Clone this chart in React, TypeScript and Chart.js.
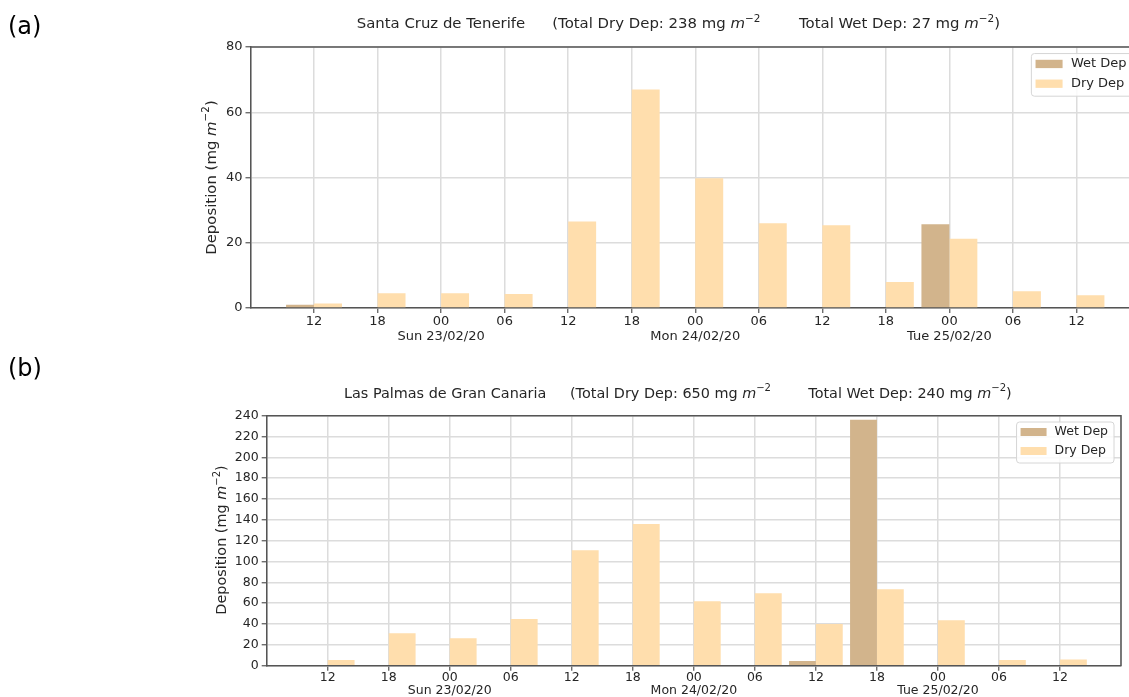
import React, { useEffect, useRef } from 'react';
import { Chart, registerables } from 'chart.js';

Chart.register(...registerables);

const FONT = "'DejaVu Sans', 'Liberation Sans', sans-serif";
const TEXT = '#262626';
const SPINE = '#555555';
const GRID = '#dcdcdc';
const WET_COLOR = '#D2B48C';
const DRY_COLOR = '#FFDEAD';

// 6-hourly time steps (first and last are the empty axis margins)
const hourLabels = ['06', '12', '18', '00', '06', '12', '18', '00', '06', '12', '18', '00', '06', '12', '18'];
const dayLabels = ['Sun 23/02/20', 'Mon 24/02/20', 'Tue 25/02/20'];

// (a) Santa Cruz de Tenerife, mg m-2
const tenerifeWet = [null, 1.0, null, null, null, null, null, null, null, null, null, 25.7, null, null, null];
const tenerifeDry = [null, 1.4, 4.5, 4.5, 4.3, 26.5, 67, 39.8, 26, 25.4, 8, 21.2, 5.1, 3.9, null];

// (b) Las Palmas de Gran Canaria, mg m-2
const canariaWet = [null, null, null, null, null, null, null, null, null, 4.5, 236, null, null, null, null];
const canariaDry = [null, 5.5, 31.1, 26.3, 44.8, 110.8, 136, 61.8, 69.5, 40, 73.3, 43.6, 5.5, 6, null];

type Seg = { t: string; it?: boolean; sup?: boolean };

const tenerifeTitle: Seg[][] = [
  [{ t: 'Santa Cruz de Tenerife' }],
  [{ t: '(Total Dry Dep: 238 mg ' }, { t: 'm', it: true }, { t: '\u22122', sup: true }],
  [{ t: 'Total Wet Dep: 27 mg ' }, { t: 'm', it: true }, { t: '\u22122', sup: true }, { t: ')' }],
];
const canariaTitle: Seg[][] = [
  [{ t: 'Las Palmas de Gran Canaria' }],
  [{ t: '(Total Dry Dep: 650 mg ' }, { t: 'm', it: true }, { t: '\u22122', sup: true }],
  [{ t: 'Total Wet Dep: 240 mg ' }, { t: 'm', it: true }, { t: '\u22122', sup: true }, { t: ')' }],
];
const yLabel: Seg[] = [{ t: 'Deposition (mg ' }, { t: 'm', it: true }, { t: '\u22122', sup: true }, { t: ')' }];

const tickTexts: (string | string[])[] = (() => {
  let k = 0;
  return hourLabels.map((h, i) => {
    if (i === 0 || i === hourLabels.length - 1) return '';
    if (h === '00') return [h, dayLabels[k++]];
    return h;
  });
})();

function segFont(s: Seg, size: number) {
  return `${s.it ? 'italic ' : ''}${s.sup ? size * 0.7 : size}px ${FONT}`;
}

function drawRich(ctx: CanvasRenderingContext2D, segs: Seg[], x: number, y: number, size: number, center: boolean) {
  let w = 0;
  for (const s of segs) {
    ctx.font = segFont(s, size);
    w += ctx.measureText(s.t).width;
  }
  let cx = center ? x - w / 2 : x;
  ctx.textAlign = 'left';
  ctx.textBaseline = 'alphabetic';
  for (const s of segs) {
    ctx.font = segFont(s, size);
    ctx.fillText(s.t, cx, s.sup ? y - size * 0.42 : y);
    cx += ctx.measureText(s.t).width;
  }
}

type PanelCfg = {
  top: number;
  w: number;
  h: number;
  padTop: number;
  padRight: number;
  yW: number;
  xH: number;
  ymax: number;
  wet: (number | null)[];
  dry: (number | null)[];
  s: number;
  tick: number;
  lineH: number;
  xPad: number;
  titleSize: number;
  title: Seg[][];
  titleX: number[];
  titleY: number;
  ylabX: number;
  ylabY: number;
  panel: string;
  panelY: number;
};

function makeDeco(cfg: PanelCfg) {
  return {
    id: 'deco',
    afterDraw(chart: any) {
      const ctx: CanvasRenderingContext2D = chart.ctx;
      const ca = chart.chartArea;
      ctx.save();
      // top / right spines
      ctx.strokeStyle = SPINE;
      ctx.lineWidth = 1.5;
      ctx.beginPath();
      ctx.moveTo(ca.left, ca.top);
      ctx.lineTo(ca.right, ca.top);
      ctx.lineTo(ca.right, ca.bottom);
      ctx.stroke();
      // title
      ctx.fillStyle = TEXT;
      cfg.title.forEach((p, i) => drawRich(ctx, p, cfg.titleX[i], cfg.titleY, cfg.titleSize, false));
      // panel label
      ctx.fillStyle = '#000';
      ctx.font = `24px ${FONT}`;
      ctx.textAlign = 'left';
      ctx.textBaseline = 'alphabetic';
      ctx.fillText(cfg.panel, 8, cfg.panelY);
      // y label
      ctx.fillStyle = TEXT;
      ctx.save();
      ctx.translate(cfg.ylabX, cfg.ylabY);
      ctx.rotate(-Math.PI / 2);
      drawRich(ctx, yLabel, 0, 0, cfg.titleSize, true);
      ctx.restore();
      // legend
      const s = cfg.s;
      const fs = 12.5 * s;
      ctx.font = `${fs}px ${FONT}`;
      const items = chart.data.datasets.map((d: any) => ({ label: d.label, color: d.backgroundColor }));
      let tw = 0;
      for (const it of items) tw = Math.max(tw, ctx.measureText(it.label).width);
      const bw = (4 + 26 + 8) * s + tw + 6 * s;
      const bh = 41 * s;
      const bx = ca.right - 7 * s - bw;
      const by = ca.top + 6.3 * s;
      ctx.beginPath();
      const r = 3;
      ctx.moveTo(bx + r, by);
      ctx.lineTo(bx + bw - r, by);
      ctx.quadraticCurveTo(bx + bw, by, bx + bw, by + r);
      ctx.lineTo(bx + bw, by + bh - r);
      ctx.quadraticCurveTo(bx + bw, by + bh, bx + bw - r, by + bh);
      ctx.lineTo(bx + r, by + bh);
      ctx.quadraticCurveTo(bx, by + bh, bx, by + bh - r);
      ctx.lineTo(bx, by + r);
      ctx.quadraticCurveTo(bx, by, bx + r, by);
      ctx.closePath();
      ctx.fillStyle = 'rgba(255,255,255,0.85)';
      ctx.fill();
      ctx.strokeStyle = '#d6d6d6';
      ctx.lineWidth = 1;
      ctx.stroke();
      items.forEach((it: any, i: number) => {
        const cy = by + (10 + 19 * i) * s;
        ctx.fillStyle = it.color;
        ctx.fillRect(bx + 4 * s, cy - 4 * s, 26 * s, 8 * s);
        ctx.fillStyle = TEXT;
        ctx.textBaseline = 'middle';
        ctx.fillText(it.label, bx + 38 * s, cy);
      });
      ctx.restore();
    },
  };
}

function Panel({ cfg }: { cfg: PanelCfg }) {
  const ref = useRef<HTMLCanvasElement>(null);
  useEffect(() => {
    const last = hourLabels.length - 1;
    const tickFont = { family: FONT, size: cfg.tick, lineHeight: cfg.lineH };
    const chart = new Chart(ref.current as HTMLCanvasElement, {
      type: 'bar',
      data: {
        labels: hourLabels,
        datasets: [
          { label: 'Wet Dep', data: cfg.wet, backgroundColor: WET_COLOR, borderWidth: 0, categoryPercentage: 0.88, barPercentage: 1 },
          { label: 'Dry Dep', data: cfg.dry, backgroundColor: DRY_COLOR, borderWidth: 0, categoryPercentage: 0.88, barPercentage: 1 },
        ] as any,
      },
      options: {
        responsive: false,
        animation: false,
        devicePixelRatio: 1,
        events: [],
        layout: { padding: { top: cfg.padTop, right: cfg.padRight, left: 0, bottom: 0 } },
        plugins: { legend: { display: false }, tooltip: { enabled: false }, title: { display: false } },
        scales: {
          x: {
            type: 'category',
            offset: false,
            grid: {
              offset: false,
              color: GRID,
              lineWidth: 1.5,
              tickLength: 5,
              tickWidth: 1.2,
              tickColor: (c: any) => (c.index === 0 || c.index === last ? 'rgba(0,0,0,0)' : SPINE),
            },
            border: { color: SPINE, width: 1.5 },
            ticks: {
              autoSkip: false,
              maxRotation: 0,
              minRotation: 0,
              padding: cfg.xPad,
              color: TEXT,
              font: tickFont,
              callback: (_v: any, i: number) => tickTexts[i],
            },
            afterFit: (sc: any) => {
              sc.height = cfg.xH;
            },
          },
          y: {
            min: 0,
            max: cfg.ymax,
            grid: { color: GRID, lineWidth: 1.5, tickLength: 5, tickWidth: 1.2, tickColor: SPINE },
            border: { color: SPINE, width: 1.5 },
            ticks: { stepSize: 20, padding: 3, color: TEXT, font: { family: FONT, size: cfg.tick } },
            afterFit: (sc: any) => {
              sc.width = cfg.yW;
            },
          },
        },
      } as any,
      plugins: [makeDeco(cfg)],
    });
    return () => chart.destroy();
  }, []);
  return (
    <canvas
      ref={ref}
      width={cfg.w}
      height={cfg.h}
      style={{ position: 'absolute', left: 0, top: cfg.top, width: cfg.w, height: cfg.h, display: 'block' }}
    />
  );
}

const panelA: PanelCfg = {
  top: 0,
  w: 1200,
  h: 350,
  padTop: 47,
  padRight: 60,
  yW: 250.5,
  xH: 42,
  ymax: 80,
  wet: tenerifeWet,
  dry: tenerifeDry,
  s: 1.04,
  tick: 13,
  lineH: 1.15,
  xPad: 1,
  titleSize: 14.9,
  title: tenerifeTitle,
  titleX: [356.7, 552.3, 799],
  titleY: 28,
  ylabX: 215.5,
  ylabY: 177.5,
  panel: '(a)',
  panelY: 33.5,
};

const panelB: PanelCfg = {
  top: 340,
  w: 1129,
  h: 357,
  padTop: 75.7,
  padRight: 8,
  yW: 266.7,
  xH: 31.3,
  ymax: 240,
  wet: canariaWet,
  dry: canariaDry,
  s: 1,
  tick: 12.5,
  lineH: 1.07,
  xPad: 0,
  titleSize: 14.4,
  title: canariaTitle,
  titleX: [344, 570, 808.3],
  titleY: 57.5,
  ylabX: 226,
  ylabY: 200,
  panel: '(b)',
  panelY: 36,
};

export default function App() {
  return (
    <div
      style={{
        position: 'fixed',
        left: 0,
        top: 0,
        width: 1129,
        height: 697,
        overflow: 'hidden',
        background: '#fff',
      }}
    >
      <Panel cfg={panelA} />
      <Panel cfg={panelB} />
    </div>
  );
}
